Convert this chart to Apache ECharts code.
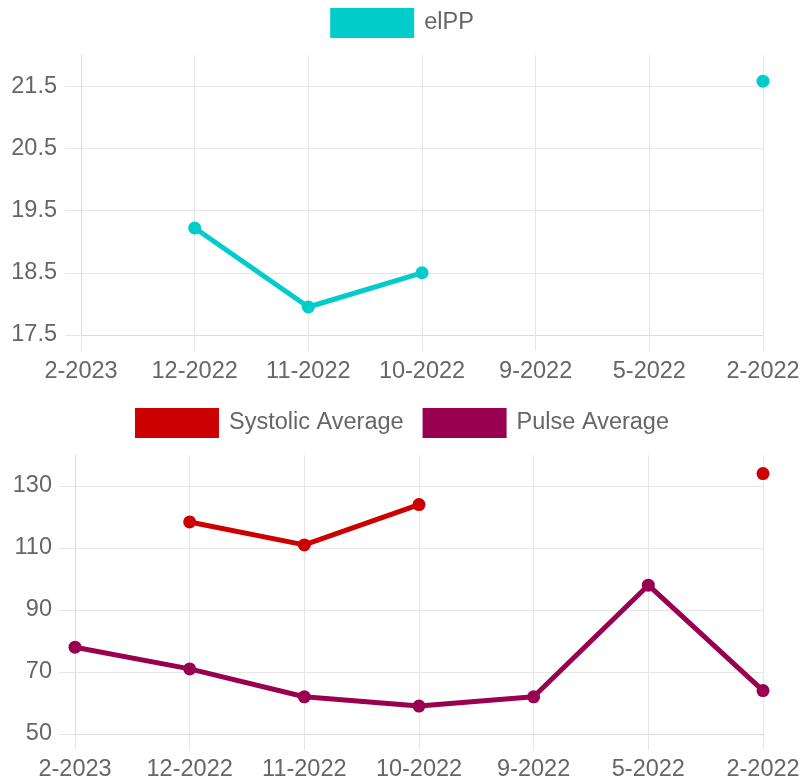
<!DOCTYPE html>
<html>
<head>
<meta charset="utf-8">
<script src="https://cdn.jsdelivr.net/npm/echarts@6/dist/echarts.min.js"></script>
<style>
html,body{margin:0;padding:0;background:#fff;}
#main{width:804px;height:784px;}
</style>
</head>
<body>
<div id="main"></div>
<script>
const categories = ['2-2023', '12-2022', '11-2022', '10-2022', '9-2022', '5-2022', '2-2022'];
const elPP = [null, 19.22, 17.95, 18.5, null, null, 21.58];
const systolicAvg = [null, 118.4, 111, 124, null, null, 134];
const pulseAvg = [78, 71, 62, 59, 62, 98, 64];

const FONT = 'Liberation Sans, Arial, sans-serif';
const TXT = '#666';
const GRID_C = '#e6e6e6';
const AXIS_C = '#dcdcdc';
const FS = 23.5;

function xAxis(gridIndex, margin) {
  return {
    type: 'category', gridIndex: gridIndex, data: categories, boundaryGap: false,
    axisLine: { show: true, lineStyle: { color: AXIS_C, width: 1 } },
    axisTick: { show: true, length: 16, lineStyle: { color: GRID_C } },
    axisLabel: { color: TXT, fontSize: FS, fontFamily: FONT, margin: margin, interval: 0 },
    splitLine: { show: true, lineStyle: { color: GRID_C, width: 1 } }
  };
}
function yAxis(gridIndex, min, max, interval, margin) {
  return {
    type: 'value', gridIndex: gridIndex, min: min, max: max, interval: interval,
    axisLine: { show: true, lineStyle: { color: AXIS_C, width: 1 } },
    axisTick: { show: true, length: 16, lineStyle: { color: GRID_C } },
    axisLabel: { color: TXT, fontSize: FS, fontFamily: FONT, margin: margin, showMaxLabel: false },
    splitLine: { show: true, showMaxLine: false, lineStyle: { color: GRID_C, width: 1 } }
  };
}
function lineSeries(name, data, color, xi, yi) {
  return {
    name: name, type: 'line', data: data, xAxisIndex: xi, yAxisIndex: yi,
    connectNulls: false, showSymbol: true, showAllSymbol: true,
    symbol: 'circle', symbolSize: 13,
    lineStyle: { color: color, width: 5 },
    itemStyle: { color: color },
    emphasis: { disabled: true },
    clip: false, animation: false
  };
}

const chart = echarts.init(document.getElementById('main'), null, { renderer: 'canvas' });
chart.setOption({
  animation: false,
  backgroundColor: '#fff',
  legend: [
    {
      data: ['elPP'], top: 3, left: 'center', icon: 'rect', itemWidth: 84, itemHeight: 30, itemGap: 19,
      textStyle: { color: TXT, fontSize: FS, fontFamily: FONT, padding: [0, 0, 0, 5] }
    },
    {
      data: ['Systolic Average', 'Pulse Average'], top: 403, left: 'center', icon: 'rect', itemWidth: 84, itemHeight: 30, itemGap: 19,
      textStyle: { color: TXT, fontSize: FS, fontFamily: FONT, padding: [0, 0, 0, 5] }
    }
  ],
  grid: [
    { left: 81, right: 41, top: 55, height: 280 },
    { left: 75, right: 41, top: 455, height: 279 }
  ],
  xAxis: [xAxis(0, 25), xAxis(1, 24)],
  yAxis: [yAxis(0, 17.5, 22, 1, 24), yAxis(1, 50, 140, 20, 23)],
  series: [
    lineSeries('elPP', elPP, '#00cccc', 0, 0),
    lineSeries('Systolic Average', systolicAvg, '#cc0000', 1, 1),
    lineSeries('Pulse Average', pulseAvg, '#990050', 1, 1)
  ]
});
</script>
</body>
</html>
